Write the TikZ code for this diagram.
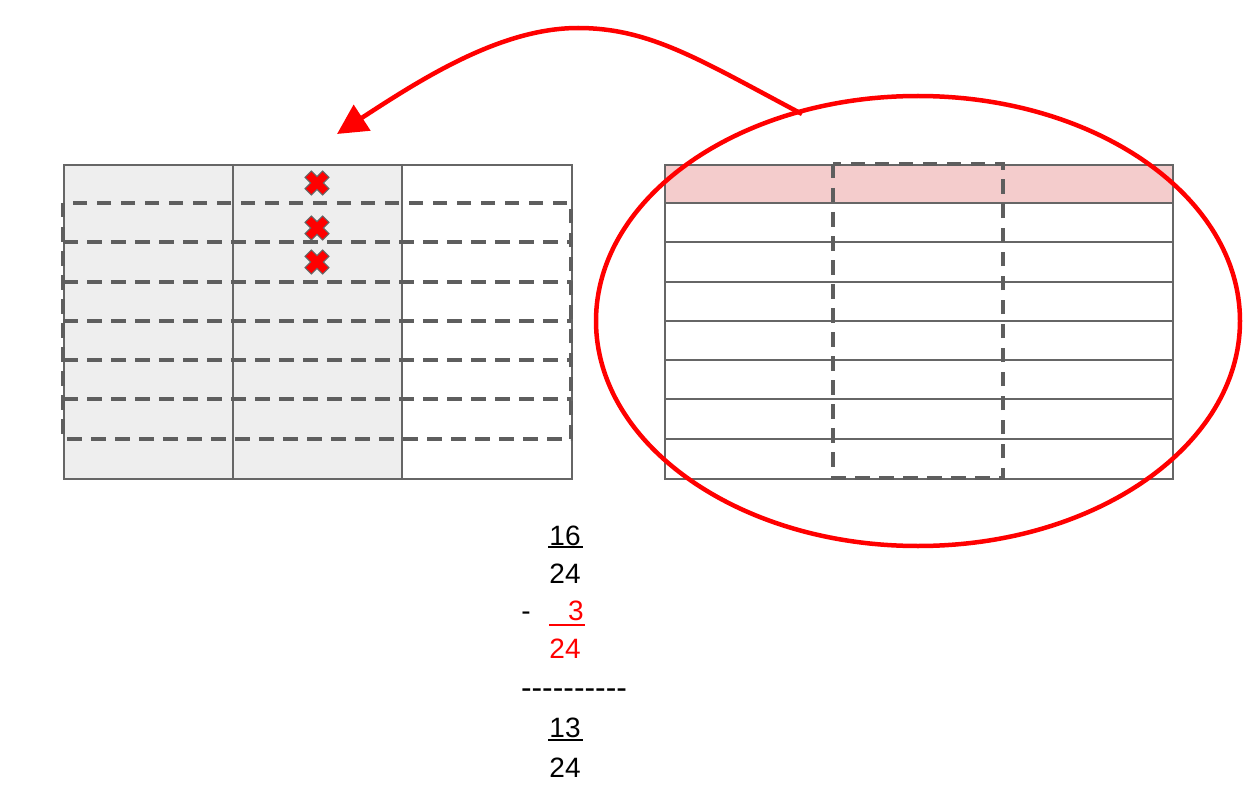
\documentclass[tikz,border=0pt]{standalone}
\usepackage{fontspec}
\setmainfont{Liberation Sans}
\newfontfamily\plainsans{Liberation Sans}
\usetikzlibrary{arrows.meta,shapes.geometric}
\definecolor{gridgray}{HTML}{666666}
\definecolor{dashgray}{HTML}{5E5E5E}
\definecolor{shadegray}{HTML}{EEEEEE}
\definecolor{shadepink}{HTML}{F4CCCC}
\definecolor{pure red}{HTML}{FF0000}
\tikzset{
  solidline/.style={draw=gridgray, line width=2pt},
  dashline/.style={draw=dashgray, line width=3.5pt, dash pattern=on 14.5pt off 9.5pt},
  redline/.style={draw=pure red, line width=4.5pt},
  num/.style={font=\fontsize{28}{34}\selectfont, inner sep=0pt, anchor=base},
  ul/.style={line width=2pt},
  xmark/.pic={
    \fill[pure red, draw=gridgray, line width=1pt, rotate=45]
      (-4.5,-12.5) -- (4.5,-12.5) -- (4.5,-4.5) -- (12.5,-4.5) -- (12.5,4.5) -- (4.5,4.5)
      -- (4.5,12.5) -- (-4.5,12.5) -- (-4.5,4.5) -- (-12.5,4.5) -- (-12.5,-4.5) -- (-4.5,-4.5) -- cycle;
  }
}
\begin{document}
\begin{tikzpicture}[x=1pt,y=-1pt]
\useasboundingbox (0,0) rectangle (1254,797);
% ---------- left table ----------
\fill[shadegray] (63,164) rectangle (402,478);
\node[draw=gridgray, line width=2pt, minimum width=508pt, minimum height=314pt, inner sep=0pt, anchor=north west] (lefttab) at (63,164) {};
\draw[solidline] (233,164) -- (233,478);
\draw[solidline] (402,164) -- (402,478);
\draw[dashline] (63,203) rectangle (571,439);
\foreach \y in {242,282,321,360,399} \draw[dashline] (63,\y) -- (571,\y);
\pic at (317,183) {xmark};
\pic at (317,228) {xmark};
\pic at (317,262) {xmark};
% ---------- right table ----------
\fill[shadepink] (664,164) rectangle (1172,203);
\node[draw=gridgray, line width=2pt, minimum width=508pt, minimum height=314pt, inner sep=0pt, anchor=north west] (righttab) at (664,164) {};
\foreach \y in {203,242,282,321,360,399,439} \draw[solidline] (664,\y) -- (1172,\y);
\draw[dashline] (833,164) rectangle (1003,478);
% ---------- ellipse and arrow ----------
\node[ellipse, redline, minimum width=644pt, minimum height=450pt, inner sep=0pt] (zoom) at (918,321) {};
\coordinate (start) at (802,114);
\coordinate (tip) at (337,134);
\draw[redline, -{Triangle[length=30pt,width=30pt]}] (start) .. controls (700,60) and (650,28) .. (578,28)
   .. controls (500,28) and (420,80) .. (tip);
% ---------- fractions ----------
\node[num] (a1) at (565,545) {16};
\draw[ul] (548,547) -- (583,547);
\node[num] (a2) at (565,583) {24};
\node[num] (minus) at (526,620) {-};
\node[num, text=pure red] (b1) at (576,620) {3};
\draw[ul, pure red] (549,625) -- (585,625);
\node[num, text=pure red] (b2) at (565,658) {24};
\node[num, font=\plainsans\fontsize{31.8}{36}\selectfont] (rule) at (574,698) {-\kern0pt-\kern0pt-\kern0pt-\kern0pt-\kern0pt-\kern0pt-\kern0pt-\kern0pt-\kern0pt-};
\node[num] (c1) at (565,737) {13};
\draw[ul] (548,740) -- (583,740);
\node[num] (c2) at (565,777) {24};
\end{tikzpicture}
\end{document}
